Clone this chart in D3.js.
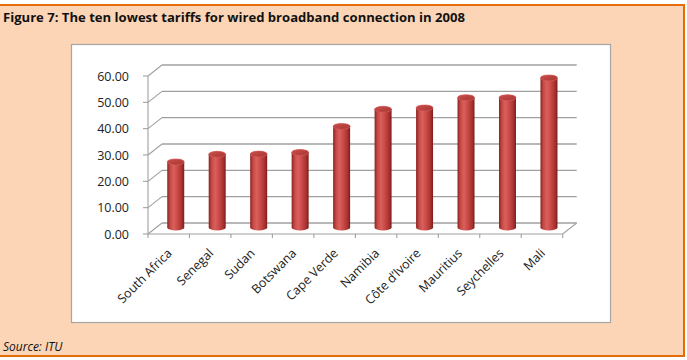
<!DOCTYPE html>
<html>
<head>
<meta charset="utf-8">
<script src="https://cdn.jsdelivr.net/npm/d3@7"></script>
<style>
  html, body { margin: 0; padding: 0; background: #fff; }
  svg { display: block; }
</style>
</head>
<body>
<div class="vis-bars"></div>
<script>
// data (USD per month)
const countries = ['South Africa', 'Senegal', 'Sudan', 'Botswana', 'Cape Verde',
    'Namibia', 'Côte d’Ivoire', 'Mauritius', 'Seychelles', 'Mali'];
const tariffs = [24.9, 27.8, 27.9, 28.5, 38.4, 44.9, 45.4, 49.3, 49.3, 56.8];
const yTicks = [0, 10, 20, 30, 40, 50, 60];

const W = 687, H = 360;
const depth = { dx: 14, dy: -11 };

const svg = d3.select('.vis-bars')
    .append('svg')
    .attr('width', W)
    .attr('height', H);

// outer frame
svg.append('rect')
    .attr('x', -2).attr('y', 5)
    .attr('width', 686).attr('height', 351)
    .attr('fill', '#fbd5b5')
    .attr('stroke', '#e46c0a')
    .attr('stroke-width', 2);

svg.append('text')
    .attr('x', 3).attr('y', 22)
    .attr('font-family', 'Open Sans, sans-serif')
    .attr('font-weight', 'bold')
    .attr('font-size', 12.5)
    .attr('textLength', 462)
    .attr('lengthAdjust', 'spacingAndGlyphs')
    .attr('fill', '#111')
    .text('Figure 7: The ten lowest tariffs for wired broadband connection in 2008');

svg.append('text')
    .attr('x', 3).attr('y', 351)
    .attr('font-family', 'Open Sans, sans-serif')
    .attr('font-style', 'italic')
    .attr('font-size', 12)
    .attr('fill', '#111')
    .text('Source: ITU');

// chart area
svg.append('rect')
    .attr('x', 71.5).attr('y', 44.5)
    .attr('width', 539).attr('height', 278)
    .attr('fill', '#fff')
    .attr('stroke', '#a6a6a6')
    .attr('stroke-width', 1.2);

const x = d3.scaleBand()
    .domain(countries)
    .range([148, 562.7])
    .padding(0);

const y = d3.scaleLinear()
    .domain([0, 60])
    .range([234, 76]);

const g = svg.append('g');
const gridColor = '#a0a0a0';

// back wall gridlines + side wall diagonals + ticks
yTicks.forEach(function (t) {
    g.append('line')
        .attr('x1', x.range()[0] + depth.dx).attr('y1', y(t) + depth.dy)
        .attr('x2', x.range()[1] + depth.dx).attr('y2', y(t) + depth.dy)
        .attr('stroke', gridColor).attr('stroke-width', 1.3);
    g.append('line')
        .attr('x1', x.range()[0]).attr('y1', y(t))
        .attr('x2', x.range()[0] + depth.dx).attr('y2', y(t) + depth.dy)
        .attr('stroke', gridColor).attr('stroke-width', 1.1);
    g.append('line')
        .attr('x1', x.range()[0] - 5).attr('y1', y(t))
        .attr('x2', x.range()[0]).attr('y2', y(t))
        .attr('stroke', gridColor).attr('stroke-width', 1.1);
    g.append('text')
        .attr('x', 129).attr('y', y(t) + 4.5)
        .attr('text-anchor', 'end')
        .attr('font-family', 'Open Sans, sans-serif')
        .attr('font-size', 12.5)
        .attr('fill', '#222')
        .text(d3.format('.2f')(t));
});

// axis + floor
g.append('line')
    .attr('x1', x.range()[0]).attr('y1', y(60))
    .attr('x2', x.range()[0]).attr('y2', y(0))
    .attr('stroke', gridColor).attr('stroke-width', 1.1);
g.append('path')
    .attr('d', 'M' + x.range()[0] + ',' + y(0) + 'L' + x.range()[1] + ',' + y(0) +
        'L' + (x.range()[1] + depth.dx) + ',' + (y(0) + depth.dy))
    .attr('fill', 'none')
    .attr('stroke', gridColor).attr('stroke-width', 1.1);

const bounds = countries.map(function (c) { return x(c); }).concat([x.range()[1]]);
bounds.forEach(function (b) {
    g.append('line')
        .attr('x1', b).attr('y1', y(0))
        .attr('x2', b).attr('y2', y(0) + 4)
        .attr('stroke', gridColor).attr('stroke-width', 1.1);
});

// cylinder gradients
const defs = svg.append('defs');
const body = defs.append('linearGradient').attr('id', 'cyl')
    .attr('x1', '0%').attr('x2', '100%').attr('y1', '0%').attr('y2', '0%');
[['0%', '#8a2321'], ['18%', '#c84a47'], ['38%', '#d9605d'], ['60%', '#c94a47'],
 ['85%', '#a83230'], ['100%', '#7a1d1c']].forEach(function (s) {
    body.append('stop').attr('offset', s[0]).attr('stop-color', s[1]);
});
const cap = defs.append('linearGradient').attr('id', 'cap')
    .attr('x1', '0%').attr('x2', '100%').attr('y1', '0%').attr('y2', '100%');
[['0%', '#c9504d'], ['100%', '#a93431']].forEach(function (s) {
    cap.append('stop').attr('offset', s[0]).attr('stop-color', s[1]);
});

const rx = 8.5, ry = 3;
const baseY = y(0) + depth.dy / 2 - 1;

const bars = g.selectAll('.bar')
    .data(countries.map(function (c, i) { return { name: c, value: tariffs[i] }; }))
    .enter().append('g')
    .attr('class', 'bar');

function cx(d) { return x(d.name) + x.bandwidth() / 2 + depth.dx / 2; }
function topY(d) { return baseY - (y(0) - y(d.value)); }

bars.append('path')
    .attr('d', function (d) {
        const c = cx(d), t = topY(d);
        return 'M' + (c - rx) + ',' + t +
            'L' + (c - rx) + ',' + baseY +
            'A' + rx + ',' + ry + ' 0 0 0 ' + (c + rx) + ',' + baseY +
            'L' + (c + rx) + ',' + t +
            'A' + rx + ',' + ry + ' 0 0 0 ' + (c - rx) + ',' + t + 'Z';
    })
    .attr('fill', 'url(#cyl)');

bars.append('ellipse')
    .attr('cx', cx)
    .attr('cy', topY)
    .attr('rx', rx).attr('ry', ry)
    .attr('fill', 'url(#cap)')
    .attr('stroke', '#d9625f')
    .attr('stroke-width', 0.6);

// category labels
g.selectAll('.cat')
    .data(countries)
    .enter().append('text')
    .attr('class', 'cat')
    .attr('transform', function (d) {
        return 'translate(' + (x(d) + x.bandwidth() / 2 + 4) + ',' + 254 + ') rotate(-45)';
    })
    .attr('text-anchor', 'end')
    .attr('font-family', 'Open Sans, sans-serif')
    .attr('font-size', 12.5)
    .attr('fill', '#222')
    .text(function (d) { return d; });
</script>
</body>
</html>
